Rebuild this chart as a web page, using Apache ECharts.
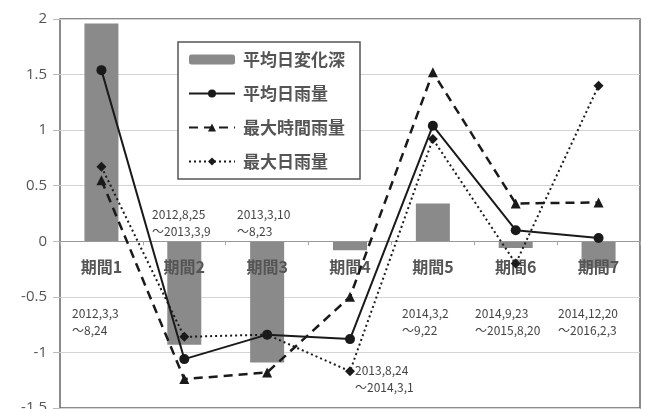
<!DOCTYPE html>
<html>
<head>
    <meta charset="utf-8">
    <script src="https://cdn.jsdelivr.net/npm/echarts@6/dist/echarts.min.js"></script>
    <style type="text/css">
        html, body { margin: 0; padding: 0; background: #fff; }
        #main { width: 645px; height: 409px; }
    </style>
</head>
<body>
    <div id="main"></div>
    <script>
        // 期間ごとのデータ
        var categories = ['期間1', '期間2', '期間3', '期間4', '期間5', '期間6', '期間7'];
        var yTicks = [-1.5, -1, -0.5, 0, 0.5, 1, 1.5, 2];
        var heikinHenka = [1.96, -0.93, -1.09, -0.08, 0.34, -0.06, -0.24];  // 平均日変化深
        var heikinUryo = [1.54, -1.06, -0.84, -0.88, 1.04, 0.1, 0.03];      // 平均日雨量
        var maxJikan = [0.55, -1.24, -1.18, -0.5, 1.52, 0.34, 0.35];        // 最大時間雨量
        var maxNichi = [0.67, -0.86, -0.84, -1.17, 0.92, -0.2, 1.4];        // 最大日雨量
        var periodNotes = [
            '2012,3,3\n～8,24', '2012,8,25\n～2013,3,9', '2013,3,10\n～8,23',
            '2013,8,24\n～2014,3,1', '2014,3,2\n～9,22', '2014,9,23\n～2015,8,20',
            '2014,12,20\n～2016,2,3'
        ];
        var notePos = [[72, 305], [152, 206], [237, 206], [355, 362], [402, 305], [475, 305], [558, 305]];

        var fontJP = '"Noto Sans CJK JP", sans-serif';
        var gridTop = 19, gridBottom = 1, H = 409;
        var yMin = yTicks[0], yMax = yTicks[yTicks.length - 1];
        // カテゴリ軸を0の位置へ移動（下端からのずれ）
        var zeroShift = (H - gridTop - gridBottom) * (0 - yMin) / (yMax - yMin);

        var myChart = echarts.init(document.getElementById('main'));

        var option = {
            animation: false,
            backgroundColor: '#fff',
            grid: {
                left: 60, right: 5, top: gridTop, bottom: gridBottom,
                outerBoundsMode: 'none',
                containLabel: false,
                show: true,
                borderColor: '#666',
                borderWidth: 1.5
            },
            legend: {
                orient: 'vertical',
                left: 178,
                top: 42,
                padding: [9, 15, 9, 10],
                itemGap: 17,
                itemWidth: 46,
                itemHeight: 10,
                borderColor: '#555',
                borderWidth: 1.5,
                backgroundColor: '#fff',
                textStyle: { fontFamily: fontJP, fontSize: 17, fontWeight: 'bold', color: '#555', lineHeight: 17, padding: [0, 0, 0, 3] },
                data: ['平均日変化深', '平均日雨量', '最大時間雨量', '最大日雨量']
            },
            xAxis: {
                type: 'category',
                data: categories,
                offset: -zeroShift,
                z: 10,
                axisLine: { onZero: false, lineStyle: { color: '#999', width: 1 } },
                axisTick: { show: true, length: 4, lineStyle: { color: '#aaa' } },
                axisLabel: { margin: 18, fontFamily: fontJP, fontSize: 16, fontWeight: 'bold', color: '#555' }
            },
            yAxis: {
                type: 'value',
                min: yMin,
                max: yMax,
                interval: 0.5,
                axisLine: { show: false },
                axisTick: { show: true, length: 7, lineStyle: { color: '#bbb' } },
                splitLine: { lineStyle: { color: '#d4d4d4', width: 1 } },
                axisLabel: { margin: 13, fontFamily: 'Open Sans, sans-serif', fontSize: 15, color: '#555' }
            },
            series: [
                {
                    name: '平均日変化深',
                    type: 'bar',
                    barWidth: 34,
                    itemStyle: { color: '#8a8a8a' },
                    data: heikinHenka,
                    z: 1
                },
                {
                    name: '平均日雨量',
                    type: 'line',
                    symbol: 'circle',
                    symbolSize: 10,
                    itemStyle: { color: '#1a1a1a' },
                    lineStyle: { color: '#1a1a1a', width: 2 },
                    data: heikinUryo,
                    z: 14
                },
                {
                    name: '最大時間雨量',
                    type: 'line',
                    symbol: 'triangle',
                    symbolSize: 10,
                    itemStyle: { color: '#1a1a1a' },
                    lineStyle: { color: '#1a1a1a', width: 2.5, type: [9, 6] },
                    data: maxJikan,
                    z: 13
                },
                {
                    name: '最大日雨量',
                    type: 'line',
                    symbol: 'diamond',
                    symbolSize: 10,
                    itemStyle: { color: '#1a1a1a' },
                    lineStyle: { color: '#1a1a1a', width: 2, type: [2, 3] },
                    data: maxNichi,
                    z: 13
                }
            ],
            graphic: periodNotes.map(function (t, i) {
                return {
                    type: 'text',
                    left: notePos[i][0],
                    top: notePos[i][1],
                    z: 10,
                    style: {
                        text: t,
                        font: '12px ' + fontJP,
                        fill: '#444',
                        lineHeight: 17
                    }
                };
            })
        };
        myChart.setOption(option);
    </script>
</body>
</html>
